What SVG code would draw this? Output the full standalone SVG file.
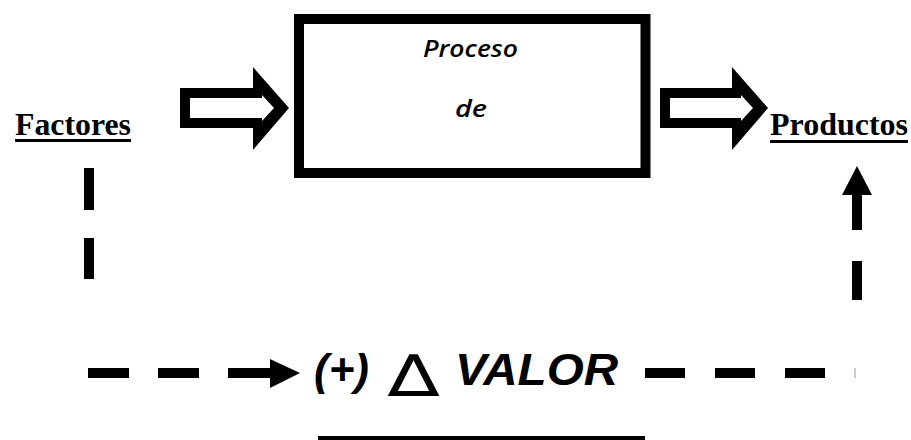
<svg xmlns="http://www.w3.org/2000/svg" width="911" height="440" viewBox="0 0 911 440">
  <style>
    .serif { font-family: "Liberation Serif", "Times New Roman", serif; font-weight: bold; font-size: 31px; fill: #000; }
    .proc { font-family: "Open Sans", "Noto Sans", sans-serif; font-style: italic; font-weight: 600; font-size: 23px; fill: #000; }
    .valor { font-family: "Liberation Sans", Arial, sans-serif; font-style: italic; font-weight: bold; font-size: 44px; fill: #000; }
    .dash { stroke: #000; stroke-width: 10; fill: none; }
  </style>

  <rect width="911" height="440" fill="#fff"/>

  <!-- Input label -->
  <g id="factores">
    <text class="serif" x="15" y="135" textLength="116" lengthAdjust="spacingAndGlyphs">Factores</text>
    <rect x="15" y="139" width="116" height="3" fill="#000"/>
  </g>

  <!-- Output label -->
  <g id="productos">
    <text class="serif" x="770" y="135" textLength="138" lengthAdjust="spacingAndGlyphs">Productos</text>
    <rect x="770" y="140" width="138" height="3" fill="#000"/>
  </g>

  <!-- Central process box -->
  <g id="proceso">
    <rect x="299" y="19" width="346.5" height="154" fill="#fff" stroke="#000" stroke-width="10"/>
    <text class="proc" x="423" y="57" textLength="95" lengthAdjust="spacingAndGlyphs">Proceso</text>
    <text class="proc" x="455" y="117" textLength="32" lengthAdjust="spacingAndGlyphs">de</text>
  </g>

  <!-- Value label -->
  <g id="valor">
    <text class="valor" x="314" y="385">(+)</text>
    <text transform="translate(413.5 0) scale(1.32 1)" x="0" y="396" text-anchor="middle" font-family="DejaVu Sans, sans-serif" font-size="58" fill="#000">∆</text>
    <text class="valor" x="455" y="385" textLength="163" lengthAdjust="spacingAndGlyphs">VALOR</text>
    <rect x="318" y="436" width="327" height="6" fill="#000"/>
  </g>

  <g id="connectors">
    <!-- hollow block arrows into and out of the process -->
    <g id="arrow-in">
      <polygon points="180,88 253,88 253,67 289,108 253,150 253,128 180,128" fill="#000"/>
      <polygon points="190,98 262,98 262,95 274,108 262,121 262,118 190,118" fill="#fff"/>
    </g>
    <g id="arrow-out">
      <polygon points="660,88 732,88 732,67 768,108 732,150 732,128 660,128" fill="#000"/>
      <polygon points="670,98 741,98 741,95 753,108 741,121 741,118 670,118" fill="#fff"/>
    </g>

    <!-- dashed feedback path: Factores down and across to the value label -->
    <line class="dash" x1="89" y1="168" x2="89" y2="210"/>
    <line class="dash" x1="89" y1="238" x2="89" y2="279"/>
    <line class="dash" x1="88" y1="373" x2="129" y2="373"/>
    <line class="dash" x1="158" y1="373" x2="199" y2="373"/>
    <line class="dash" x1="228" y1="373" x2="272" y2="373"/>
    <polygon points="270,359 300,373 270,388" fill="#000"/>

    <!-- dashed path from the value label up to Productos -->
    <line class="dash" x1="645" y1="373" x2="685" y2="373"/>
    <line class="dash" x1="715" y1="373" x2="755" y2="373"/>
    <line class="dash" x1="785" y1="373" x2="825" y2="373"/>
    <line x1="855" y1="368" x2="855" y2="378" stroke="#999" stroke-width="1"/>
    <line class="dash" x1="857" y1="261" x2="857" y2="300"/>
    <line class="dash" x1="857" y1="193" x2="857" y2="230"/>
    <polygon points="857,166 872,195 842,195" fill="#000"/>
  </g>
</svg>
